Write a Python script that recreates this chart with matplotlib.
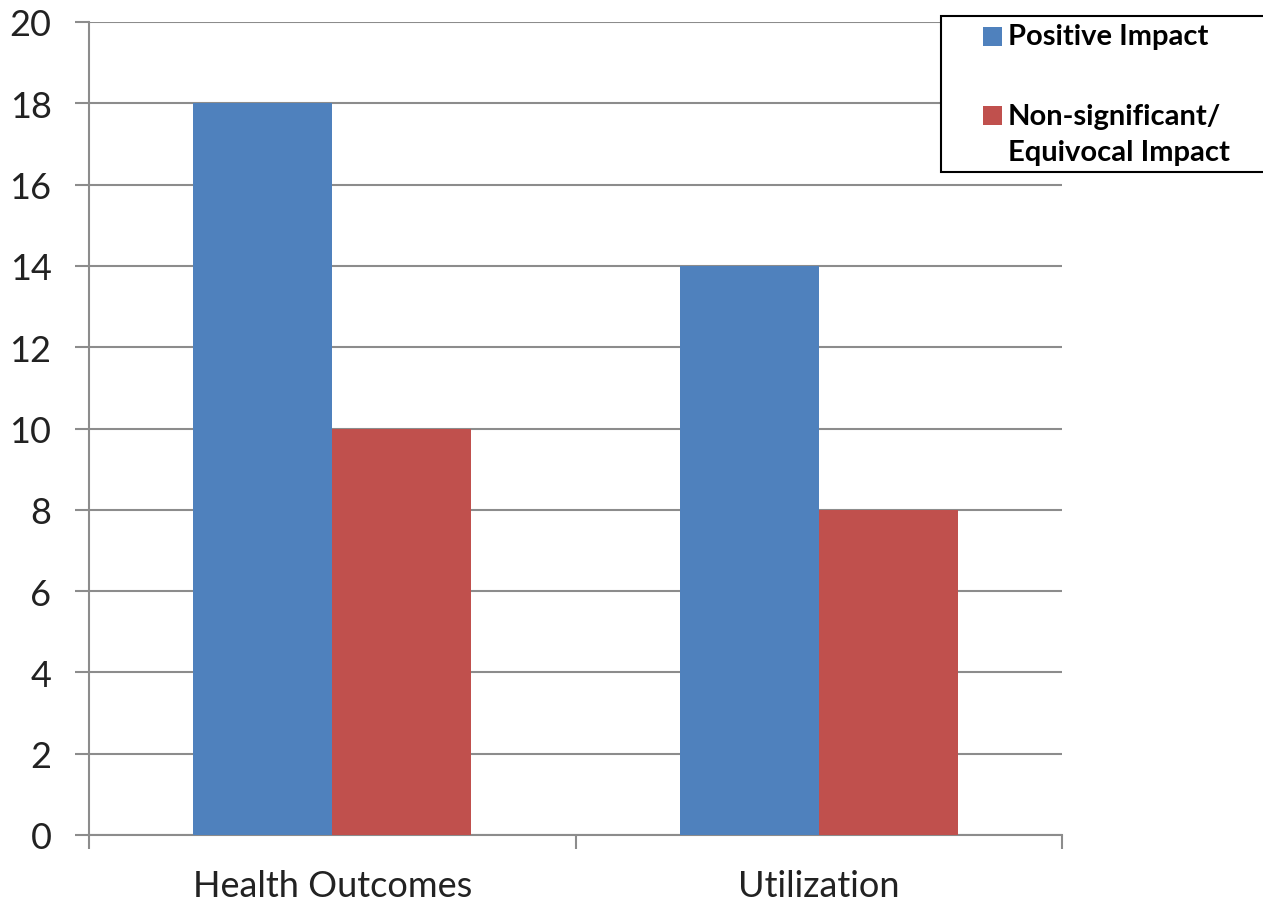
import matplotlib
matplotlib.use("Agg")
import matplotlib.pyplot as plt
import matplotlib.transforms as mtransforms
from matplotlib.patches import Rectangle
import numpy as np

categories = ["Health Outcomes", "Utilization"]
positive = [18, 14]
nonsig = [10, 8]
series_labels = ["Positive Impact", "Non-significant/\nEquivocal Impact"]
yticks = [0, 2, 4, 6, 8, 10, 12, 14, 16, 18, 20]

blue = "#4F81BD"
red = "#C0504D"
grid_col = "#8C8C8C"
text_col = "#222222"

plt.rcParams["font.family"] = ["Lato", "DejaVu Sans"]

W, H = 1263, 903
fig = plt.figure(figsize=(W / 100, H / 100), dpi=100)
ax = fig.add_axes([89 / W, 1 - 836 / H, (1062 - 89) / W, (836 - 23) / H])


def px(xp, yp):
    """pixel position (from top-left) to figure fraction"""
    return xp / W, 1 - yp / H


x = np.arange(len(categories))
w = 1 / 3.5
ax.bar(x - w / 2, positive, width=w, color=blue, zorder=3)
ax.bar(x + w / 2, nonsig, width=w, color=red, zorder=3)

ax.set_xlim(-0.5, len(categories) - 0.5)
ax.set_ylim(0, 20)
ax.set_yticks(yticks)
ax.set_yticklabels([str(v) for v in yticks], fontsize=26, color=text_col)
ax.yaxis.grid(True, color=grid_col, linewidth=1.5, zorder=0)
ax.tick_params(axis="y", length=10, width=1.5, color=grid_col, pad=17)

# category names centred under each group, tick marks at group boundaries
ax.set_xticks([])
ax.set_xticks(np.arange(-0.5, len(categories)), minor=True)
ax.tick_params(axis="x", which="minor", length=10, width=1.5, color=grid_col)
trans = mtransforms.blended_transform_factory(ax.transData, fig.transFigure)
for xi, name in zip(x, categories):
    ax.text(xi, 1 - 897.5 / H, name, transform=trans, ha="center", va="baseline",
            fontsize=26, color=text_col)

for side in ["top", "right"]:
    ax.spines[side].set_visible(False)
for side in ["left", "bottom"]:
    ax.spines[side].set_color(grid_col)
    ax.spines[side].set_linewidth(1.5)

# legend box, running off the right edge
x0, y0 = px(941, 173)
x1, y1 = px(1275, 17)
fig.patches.append(Rectangle((x0, y0), x1 - x0, y1 - y0, transform=fig.transFigure,
                             facecolor="white", edgecolor="black", linewidth=1.5,
                             zorder=5))
sq = 19
for color, ytop in [(blue, 28), (red, 107)]:
    sx, sy = px(983, ytop + sq)
    fig.patches.append(Rectangle((sx, sy), sq / W, sq / H, transform=fig.transFigure,
                                 facecolor=color, edgecolor="none", zorder=6))
fig.text(*px(1008, 37), series_labels[0], ha="left", va="center", fontsize=21,
         fontweight="bold", color="black", zorder=7)
fig.text(*px(1008, 135), series_labels[1], ha="left", va="center", fontsize=21,
         fontweight="bold", color="black", linespacing=1.5, zorder=7)

fig.savefig("out.png", dpi=100)
